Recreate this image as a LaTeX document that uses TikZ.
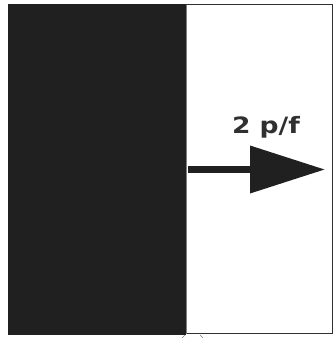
\documentclass[tikz,border=0pt]{standalone}
\usepackage{fontspec}
\setmainfont{DejaVu Sans}
\usetikzlibrary{arrows.meta}
\definecolor{slab}{HTML}{202020}
\definecolor{frameline}{HTML}{303030}
\tikzset{
  flowlabel/.style={font=\bfseries\fontsize{22.5}{24}\selectfont, text=frameline, inner sep=0pt, xscale=1.18},
  flowarrow/.style={line width=7pt, draw=slab, -{Triangle[length=75pt, width=46pt]}},
}
\begin{document}
\begin{tikzpicture}[x=1pt, y=-1pt]
  \useasboundingbox (0,0) rectangle (334,338);
  \fill[white] (0,0) rectangle (334,338);
  % open region with its frame
  \draw[frameline, line width=1.5pt] (186,4.5) rectangle (332.5,333.5);
  % solid slab on the left
  \fill[slab] (8,4) rectangle (186,334.5);
  \draw[gray, line width=1pt] (186.5,4.5) -- (186.5,333.5);
  % flow arrow leaving the slab face
  \coordinate (face) at (188,169.5);
  \coordinate (tip) at (325,169.5);
  \draw[flowarrow] (face) -- (tip);
  \node[flowlabel, anchor=base] (lbl) at (266,133) {2 p/f};
  % small marks below the slab edge
  \draw[gray, line width=0.6pt] (182,338) -- (185,335);
  \draw[gray, line width=0.6pt] (200,335) -- (203,338);
\end{tikzpicture}
\end{document}
